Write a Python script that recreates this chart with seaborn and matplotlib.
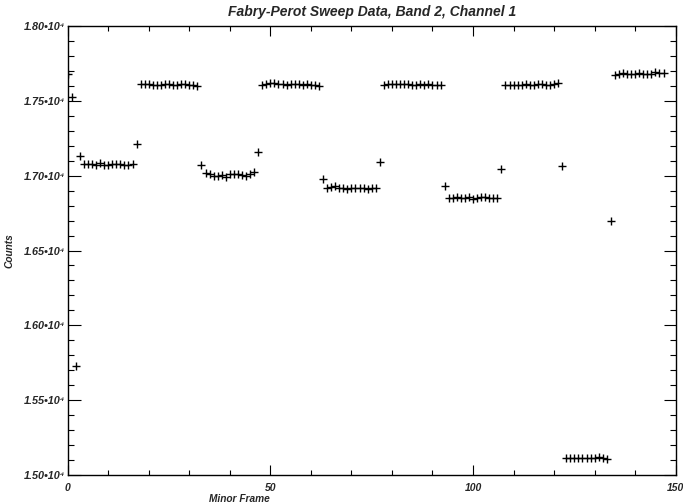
import numpy as np
import pandas as pd
import matplotlib
matplotlib.use("Agg")
import matplotlib.pyplot as plt
from matplotlib.ticker import MultipleLocator, FixedLocator
import seaborn as sns

# ---- data ----
start_pts = [17680, 17528, 15729, 17134]              # frames 0-3
band1 = [17080, 17075, 17078, 17070, 17085, 17068, 17072, 17078, 17075, 17080, 17072, 17070, 17078]  # 4-16
t17 = [17214]
band2 = [17612, 17615, 17610, 17605, 17608, 17604, 17610, 17612, 17605, 17608, 17614, 17612, 17608, 17604, 17602]  # 18-32
t33 = [17070]
band3 = [17015, 17012, 17000, 16998, 17005, 16990, 17012, 17010, 17012, 17003, 16998, 17008, 17025]  # 34-46
t47 = [17160]
band4 = [17608, 17615, 17620, 17618, 17612, 17610, 17606, 17612, 17615, 17612, 17608, 17610, 17606, 17604, 17600]  # 48-62
t63 = [16976]
band5 = [16915, 16925, 16930, 16920, 16918, 16912, 16920, 16918, 16920, 16915, 16912, 16918, 16920]  # 64-76
t77 = [17094]
band6 = [17608, 17610, 17612, 17615, 17612, 17614, 17610, 17606, 17608, 17612, 17606, 17610, 17606, 17608, 17604]  # 78-92
t93 = [16931]
band7 = [16848, 16850, 16855, 16850, 16848, 16858, 16845, 16850, 16855, 16858, 16852, 16850, 16848]  # 94-106
t107 = [17045]
band8 = [17605, 17605, 17606, 17608, 17606, 17615, 17604, 17608, 17610, 17612, 17606, 17608, 17612, 17620]  # 108-121
t122 = [17065]
band9 = [15115, 15115, 15112, 15116, 15115, 15114, 15116, 15115, 15118, 15116, 15110]  # 123-133
t134 = [16700]
band10 = [17675, 17682, 17685, 17682, 17680, 17678, 17684, 17676, 17680, 17682, 17690, 17684, 17686]  # 135-147

counts = (start_pts + band1 + t17 + band2 + t33 + band3 + t47 + band4 + t63 + band5
          + t77 + band6 + t93 + band7 + t107 + band8 + t122 + band9 + t134 + band10)
minor_frame = list(range(len(counts)))

y_tick_values = [15000, 15500, 16000, 16500, 17000, 17500, 18000]
y_tick_labels = ["1.50•10⁴", "1.55•10⁴", "1.60•10⁴", "1.65•10⁴", "1.70•10⁴", "1.75•10⁴", "1.80•10⁴"]
x_tick_values = [0, 50, 100, 150]
x_tick_labels = ["0", "50", "100", "150"]

title = "Fabry-Perot Sweep Data, Band 2, Channel 1"

df = pd.DataFrame({"Minor Frame": minor_frame, "Counts": counts})

sns.set_style("ticks")
plt.rcParams["font.family"] = ["Liberation Sans", "DejaVu Sans"]

fig = plt.figure(figsize=(6.83, 5.04), dpi=100)
ax = fig.add_axes([0.0991, 0.0575, 0.8902, 0.8909])

sns.scatterplot(data=df, x="Minor Frame", y="Counts", marker="+", s=30,
                color="black", linewidth=1.0, ax=ax, legend=False)

ax.set_xlim(0, 150)
ax.set_ylim(15000, 18000)

ax.xaxis.set_major_locator(FixedLocator(x_tick_values))
ax.xaxis.set_minor_locator(MultipleLocator(10))
ax.yaxis.set_major_locator(FixedLocator(y_tick_values))
ax.yaxis.set_minor_locator(MultipleLocator(100))
ax.set_xticklabels(x_tick_labels, fontsize=7.5, fontweight="bold", fontstyle="italic")
ax.set_yticklabels(y_tick_labels, fontsize=7.8, fontweight="bold", fontstyle="italic")

ax.tick_params(axis="both", which="both", direction="in", top=True, right=True,
               color="black", width=0.8)
ax.tick_params(axis="x", which="major", length=7, pad=6)
ax.tick_params(axis="x", which="minor", length=3.5)
ax.tick_params(axis="y", which="major", length=9, pad=1.5)
ax.tick_params(axis="y", which="minor", length=4.5)

for sp in ax.spines.values():
    sp.set_visible(True)
    sp.set_color("black")
    sp.set_linewidth(1.0)

ax.set_title(title, fontsize=10, fontweight="bold", fontstyle="italic", pad=7)
ax.set_xlabel("Minor Frame", fontsize=7.3, fontweight="bold", fontstyle="italic")
ax.xaxis.set_label_coords(0.283, -0.042)
ax.set_ylabel("Counts", fontsize=7.3, fontweight="bold", fontstyle="italic")
ax.yaxis.set_label_coords(-0.088, 0.5)

fig.savefig("out.png", dpi=100)
